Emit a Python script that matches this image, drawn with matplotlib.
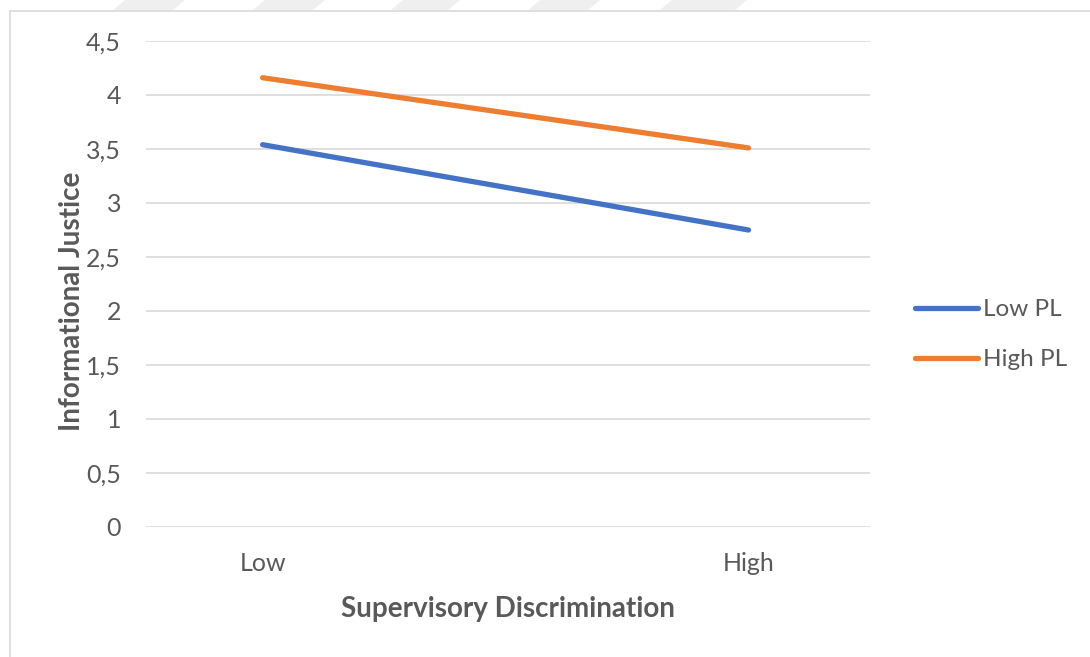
import matplotlib
matplotlib.use("Agg")
import matplotlib.pyplot as plt
from matplotlib.patches import Polygon
from matplotlib.lines import Line2D

categories = ["Low", "High"]
low_pl = [3.54, 2.75]
high_pl = [4.16, 3.51]
series_names = ["Low PL", "High PL"]
y_ticks = [0, 0.5, 1, 1.5, 2, 2.5, 3, 3.5, 4, 4.5]
y_tick_labels = ["0", "0,5", "1", "1,5", "2", "2,5", "3", "3,5", "4", "4,5"]

BLUE = "#4472C4"
ORANGE = "#ED7D31"
TEXT = "#595959"
GRID = "#D9D9D9"

plt.rcParams["font.family"] = ["Lato", "DejaVu Sans"]

W, H = 1090, 657
fig = plt.figure(figsize=(W / 100, H / 100), dpi=100)

# faint stripes along the very top edge
for x0, x1 in [(125, 185), (265, 325), (403, 460), (540, 600), (672, 747)]:
    fig.patches.append(Polygon([(x0 / W, 1), (x1 / W, 1), ((x1 - 12) / W, 1 - 10 / H), ((x0 - 12) / W, 1 - 10 / H)],
                               closed=True, transform=fig.transFigure, facecolor="#EFEFEF", edgecolor="none"))

# chart area border (top and left edges visible)
fig.lines.append(Line2D([10 / W, 10 / W], [0, 1 - 11 / H], transform=fig.transFigure, color=GRID, lw=1.2))
fig.lines.append(Line2D([10 / W, 1], [1 - 11 / H, 1 - 11 / H], transform=fig.transFigure, color=GRID, lw=1.2))

ax = fig.add_axes([146 / W, 1 - 527 / H, (870 - 146) / W, (527 - 41) / H])
x = list(range(len(categories)))
ax.plot(x, low_pl, color=BLUE, lw=3.8, solid_capstyle="round", label=series_names[0], zorder=3)
ax.plot(x, high_pl, color=ORANGE, lw=3.8, solid_capstyle="round", label=series_names[1], zorder=3)

ax.set_xlim(-0.24, 1.25)
ax.set_ylim(0, 4.5)
ax.set_yticks(y_ticks)
ax.set_yticklabels(y_tick_labels)
ax.set_xticks(x)
ax.set_xticklabels(categories)
ax.yaxis.grid(True, color=GRID, lw=1.2)
ax.set_axisbelow(True)
for s in ax.spines.values():
    s.set_visible(False)
ax.tick_params(axis="both", length=0, colors=TEXT, labelsize=18)
ax.tick_params(axis="y", pad=18)
ax.tick_params(axis="x", pad=18)

ax.set_xlabel("Supervisory Discrimination", fontsize=20, fontweight="bold", color=TEXT, labelpad=15)
ax.set_ylabel("Informational Justice", fontsize=20, fontweight="bold", color=TEXT, labelpad=1)
ax.yaxis.label.set_y(0.465)

leg = ax.legend(loc="center left", bbox_to_anchor=(1.062, 0.396), frameon=False, fontsize=17.5,
                borderpad=0, borderaxespad=0, handlelength=2.6, handletextpad=0.2,
                labelspacing=1.19, labelcolor=TEXT)

fig.savefig("out.png", dpi=100, facecolor="white")
